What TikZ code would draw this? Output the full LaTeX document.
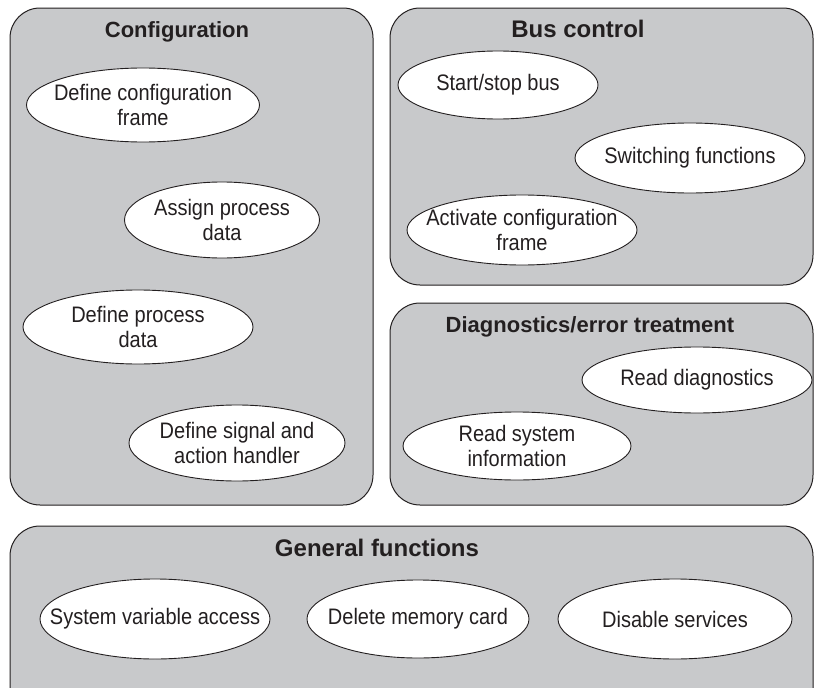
\documentclass[tikz,border=0pt]{standalone}
\usepackage{fontspec}
\setmainfont{Liberation Sans}
\usetikzlibrary{shapes.geometric}
\definecolor{panelgray}{HTML}{C8C9CB}
\definecolor{inkdark}{HTML}{231F20}
\begin{document}
\begin{tikzpicture}[x=1pt,y=-1pt,
  panel/.style={draw=inkdark, line width=1pt, fill=panelgray, rounded corners=30pt},
  title/.style={text=inkdark, anchor=base, inner sep=0pt},
  casetext/.style={align=center, text=inkdark, inner sep=0pt,
    font=\fontsize{20}{22.5}\selectfont, yscale=1.12, transform shape},
  usecase/.style={ellipse, draw=inkdark, line width=0.9pt, fill=white, inner sep=0pt},
]
\useasboundingbox (0,0) rectangle (815,688);
\clip (0,0) rectangle (815,688);

% group panels
\path[panel] (10,8) rectangle (373,505);
\path[panel] (390,8) rectangle (813,285);
\path[panel] (390,303) rectangle (813,505);
\path[panel] (10,526) rectangle (813,720);

% panel titles
\node[title, font=\fontsize{22}{26}\selectfont\bfseries] (tcfg) at (177,37) {Configuration};
\node[title, font=\fontsize{24}{28}\selectfont\bfseries] (tbus) at (578,37) {Bus control};
\node[title, font=\fontsize{22}{26}\selectfont\bfseries] (tdiag) at (590,332) {Diagnostics/error treatment};
\node[title, font=\fontsize{24}{28}\selectfont\bfseries] (tgen) at (377,556) {General functions};

% configuration
\node[usecase, minimum width=233pt, minimum height=74pt,
  label={[casetext]center:{Define configuration\\frame}}] (defcfg) at (143,105) {};
\node[usecase, minimum width=195pt, minimum height=76pt,
  label={[casetext]center:{Assign process\\data}}] (assign) at (222,220) {};
\node[usecase, minimum width=230pt, minimum height=74pt,
  label={[casetext]center:{Define process\\data}}] (defpd) at (138,327) {};
\node[usecase, minimum width=216pt, minimum height=76pt,
  label={[casetext]center:{Define signal and\\action handler}}] (defsig) at (237,443) {};

% bus control
\node[usecase, minimum width=200pt, minimum height=68pt,
  label={[casetext]center:{Start/stop bus}}] (startstop) at (498,85) {};
\node[usecase, minimum width=230pt, minimum height=70pt,
  label={[casetext]center:{Switching functions}}] (switching) at (690,158) {};
\node[usecase, minimum width=230pt, minimum height=70pt,
  label={[casetext]center:{Activate configuration\\frame}}] (activate) at (522,230) {};

% diagnostics / error treatment
\node[usecase, minimum width=230pt, minimum height=66pt,
  label={[casetext]center:{Read diagnostics}}] (readdiag) at (697,380) {};
\node[usecase, minimum width=228pt, minimum height=68pt,
  label={[casetext]center:{Read system\\information}}] (readsys) at (517,446) {};

% general functions
\node[usecase, minimum width=230pt, minimum height=80pt,
  label={[casetext]center:{System variable access}}] (sysvar) at (155,619) {};
\node[usecase, minimum width=222pt, minimum height=78pt,
  label={[casetext]center:{Delete memory card}}] (delmem) at (418,619) {};
\node[usecase, minimum width=234pt, minimum height=80pt,
  label={[casetext]center:{Disable services}}] (disable) at (675,619) {};
\end{tikzpicture}
\end{document}
